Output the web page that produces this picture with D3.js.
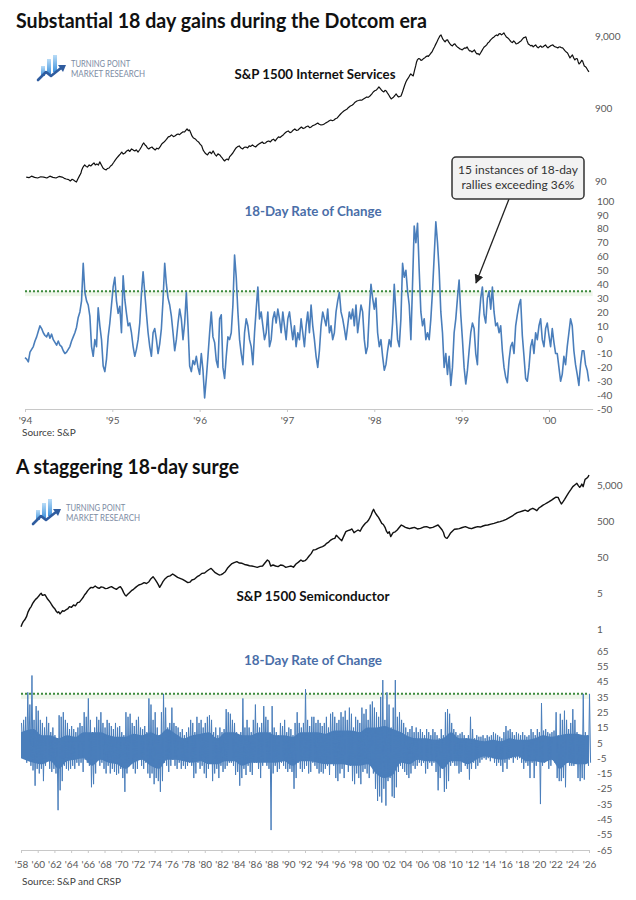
<!DOCTYPE html>
<html><head><meta charset="utf-8">
<script src="https://cdn.jsdelivr.net/npm/d3@7"></script>
<style>body{margin:0;background:#fff}svg{display:block}</style>
</head><body>
<svg id="c" width="636" height="900"></svg>
<script>
// ---------------- DATA ----------------
const topTitle = "Substantial 18 day gains during the Dotcom era";
const botTitle = "A staggering 18-day surge";
const topSeriesName = "S&P 1500 Internet Services";
const botSeriesName = "S&P 1500 Semiconductor";
const rocTitle = "18-Day Rate of Change";
const annotationLines = ["15 instances of 18-day", "rallies exceeding 36%"];
const topSource = "Source: S&P";
const botSource = "Source: S&P and CRSP";
const logoLines = ["TURNING POINT", "MARKET RESEARCH"];

const topYears = [1994, 1995, 1996, 1997, 1998, 1999, 2000];
const topYearLabels = ["'94", "'95", "'96", "'97", "'98", "'99", "'00"];
const topPriceTicks = [9000, 900, 90];
const topPriceTickLabels = ["9,000", "900", "90"];
const topRocTicks = [100, 90, 80, 70, 60, 50, 40, 30, 20, 10, 0, -10, -20, -30, -40, -50];
const topThreshold = 35;

const botYears = d3.range(1958, 2027, 2);
const botYearLabels = ["'58","'60","'62","'64","'66","'68","'70","'72","'74","'76","'78","'80","'82","'84","'86","'88","'90","'92","'94","'96","'98","'00","'02","'04","'06","'08","'10","'12","'14","'16","'18","'20","'22","'24","'26"];
const botPriceTicks = [5000, 500, 50, 5, 0.5];
const botPriceTickLabels = ["5,000", "500", "50", "5", "1"];
const botRocTicks = [65, 55, 45, 35, 25, 15, 5, -5, -15, -25, -35, -45, -55, -65];
const botThreshold = 37;

// S&P 1500 Internet Services (log scale), [year, level]
const internetPrice = [
[1994.014,102],[1994.045,100],[1994.075,105],[1994.11,101],[1994.145,99],[1994.18,103],[1994.215,102],[1994.25,99],[1994.285,105],[1994.32,101],[1994.355,99],[1994.39,104],[1994.425,102],[1994.45,98],[1994.472,96],[1994.50,94],[1994.519,90],[1994.54,95],[1994.556,93],[1994.575,89],[1994.589,87],[1994.605,96],[1994.622,105],[1994.64,115],[1994.650,128],[1994.665,140],[1994.683,150],[1994.70,143],[1994.715,140],[1994.735,150],[1994.753,145],[1994.77,152],[1994.790,160],[1994.805,150],[1994.823,155],[1994.84,149],[1994.856,165],[1994.875,150],[1994.893,136],[1994.91,131],[1994.930,128],[1994.945,134],[1994.963,136],[1994.98,145],[1994.996,150],
[1995.015,162],[1995.033,175],[1995.05,186],[1995.071,199],[1995.09,212],[1995.108,226],[1995.125,212],[1995.145,219],[1995.165,234],[1995.183,241],[1995.20,230],[1995.220,249],[1995.24,240],[1995.258,234],[1995.275,242],[1995.295,226],[1995.315,245],[1995.332,265],[1995.345,285],[1995.360,301],[1995.375,283],[1995.389,274],[1995.40,258],[1995.417,249],[1995.435,259],[1995.454,265],[1995.47,252],[1995.491,241],[1995.51,255],[1995.529,249],[1995.55,270],[1995.566,292],[1995.585,305],[1995.604,321],[1995.62,338],[1995.641,365],[1995.66,372],[1995.678,389],[1995.70,368],[1995.716,376],[1995.735,392],[1995.753,401],[1995.77,392],[1995.791,414],[1995.81,430],[1995.828,427],[1995.842,448],[1995.856,470],[1995.87,446],[1995.884,455],[1995.90,410],[1995.912,376],[1995.93,352],[1995.950,342],[1995.97,322],[1995.987,311],
[1996.005,290],[1996.024,274],[1996.04,240],[1996.062,219],[1996.075,212],[1996.090,206],[1996.105,220],[1996.118,226],[1996.135,214],[1996.155,234],[1996.175,210],[1996.193,199],[1996.21,213],[1996.230,206],[1996.245,195],[1996.258,187],[1996.27,178],[1996.286,170],[1996.30,177],[1996.314,181],[1996.33,176],[1996.342,193],[1996.36,205],[1996.380,219],[1996.40,240],[1996.417,257],[1996.435,268],[1996.454,274],[1996.47,258],[1996.492,249],[1996.51,262],[1996.529,265],[1996.55,258],[1996.567,274],[1996.585,270],[1996.604,283],[1996.62,273],[1996.641,265],[1996.66,280],[1996.679,292],[1996.70,302],[1996.716,311],[1996.735,296],[1996.754,301],[1996.77,314],[1996.791,321],[1996.81,312],[1996.828,331],[1996.845,340],[1996.866,321],[1996.885,345],[1996.903,365],[1996.92,358],[1996.941,376],[1996.96,392],[1996.978,414],
[1996.995,430],[1997.015,441],[1997.035,418],[1997.053,427],[1997.07,452],[1997.090,470],[1997.11,448],[1997.128,455],[1997.145,478],[1997.165,500],[1997.185,476],[1997.202,484],[1997.22,505],[1997.240,516],[1997.26,490],[1997.277,500],[1997.295,522],[1997.315,533],[1997.335,552],[1997.352,568],[1997.37,545],[1997.389,533],[1997.41,540],[1997.427,550],[1997.445,570],[1997.464,586],[1997.485,610],[1997.502,625],[1997.52,610],[1997.539,625],[1997.555,650],[1997.576,666],[1997.595,710],[1997.614,756],[1997.63,790],[1997.651,832],[1997.67,860],[1997.689,886],[1997.705,930],[1997.726,975],[1997.745,1000],[1997.763,1039],[1997.78,1100],[1997.801,1143],[1997.82,1160],[1997.838,1180],[1997.855,1170],[1997.876,1218],[1997.895,1260],[1997.913,1298],[1997.93,1280],[1997.950,1340],[1997.97,1420],[1997.988,1521],
[1998.005,1580],[1998.025,1621],[1998.04,1700],[1998.053,1784],[1998.067,1700],[1998.081,1621],[1998.095,1560],[1998.109,1521],[1998.123,1600],[1998.137,1571],[1998.15,1480],[1998.166,1383],[1998.18,1290],[1998.194,1218],[1998.208,1260],[1998.222,1298],[1998.236,1360],[1998.250,1428],[1998.264,1350],[1998.278,1298],[1998.292,1320],[1998.306,1340],[1998.32,1480],[1998.334,1674],[1998.348,1880],[1998.362,2091],[1998.376,2250],[1998.390,2375],[1998.404,2550],[1998.418,2697],[1998.432,2600],[1998.446,2531],[1998.46,3000],[1998.474,3478],[1998.483,3900],[1998.493,4209],[1998.507,4400],[1998.521,4345],[1998.535,4150],[1998.549,4209],[1998.563,4400],[1998.577,4485],[1998.591,4650],[1998.605,4780],[1998.619,4700],[1998.633,4934],[1998.647,5200],[1998.661,5428],[1998.675,5900],[1998.689,6364],[1998.703,6900],[1998.717,7461],[1998.731,8100],[1998.745,8747],[1998.754,9100],[1998.764,9322],[1998.773,8800],[1998.783,8208],[1998.797,7800],[1998.811,7461],[1998.825,7900],[1998.839,7951],[1998.853,7400],[1998.867,7001],[1998.881,6700],[1998.895,6570],[1998.909,6900],[1998.923,7001],[1998.937,6600],[1998.951,6364],[1998.965,6200],[1998.979,5972],
[1998.993,5900],[1999.007,5785],[1999.021,6000],[1999.035,6165],[1999.049,6100],[1999.063,6364],[1999.077,5900],[1999.091,5604],[1999.105,5600],[1999.119,5428],[1999.133,5600],[1999.147,5785],[1999.161,5350],[1999.175,5094],[1999.189,5150],[1999.203,4934],[1999.217,5250],[1999.231,5604],[1999.245,6000],[1999.259,6364],[1999.273,6550],[1999.287,6782],[1999.30,7200],[1999.316,7461],[1999.33,7900],[1999.344,8208],[1999.358,8500],[1999.372,8747],[1999.386,9100],[1999.400,9322],[1999.414,9100],[1999.428,9623],[1999.442,9700],[1999.456,9322],[1999.47,9600],[1999.484,9934],[1999.498,9300],[1999.512,8747],[1999.526,8500],[1999.540,8208],[1999.554,7800],[1999.568,7461],[1999.582,7300],[1999.596,7702],[1999.61,7400],[1999.624,7001],[1999.638,7100],[1999.652,7227],[1999.666,7500],[1999.680,7702],[1999.694,8100],[1999.708,8473],[1999.722,8600],[1999.736,8747],[1999.75,7700],[1999.764,7001],[1999.778,6800],[1999.792,6570],[1999.806,6700],[1999.820,6364],[1999.834,6600],[1999.848,6782],[1999.862,6400],[1999.877,6165],[1999.891,6400],[1999.905,6570],[1999.919,6300],[1999.933,6364],[1999.947,6600],[1999.961,6782],[1999.975,6400],[1999.989,6165],
[2000.003,6400],[2000.017,6570],[2000.031,6700],[2000.045,6782],[2000.059,6500],[2000.073,6364],[2000.087,6300],[2000.101,6165],[2000.115,6350],[2000.129,6364],[2000.143,6200],[2000.157,6165],[2000.171,5900],[2000.185,5604],[2000.199,5400],[2000.213,5258],[2000.227,4850],[2000.241,4485],[2000.255,4700],[2000.269,4934],[2000.283,4500],[2000.297,4209],[2000.311,4400],[2000.325,4345],[2000.335,3950],[2000.345,3706],[2000.355,3800],[2000.365,3950],[2000.375,4150],[2000.385,4077],[2000.395,3750],[2000.405,3478],[2000.418,3400],[2000.430,3264],[2000.444,3050],[2000.458,2874]
];

// 18-day rate of change (%), weekly from Jan 1994
const internetRoc = [
-13,-14,-16,-9,-7,-5,-1,2,6,10,8,5,3,2,5,1,4,0,-2,-4,-1,-4,-5,-8,-10,-9,-7,-5,-1,2,5,9,16,20,28,55,34,28,25,17,-5,-12,0,-5,23,10,0,-19,-23,-14,2,12,
25,38,45,28,19,24,5,46,29,19,10,12,5,-5,-12,-7,0,12,33,49,34,19,5,-5,-12,5,8,0,-10,-3,8,29,55,40,30,25,17,5,-8,0,12,22,15,0,12,34,10,-19,-23,-15,-18,-12,
-20,-25,-10,-22,-42,-28,-12,5,20,2,-2,-15,-20,15,18,-20,-28,-12,2,0,5,25,61,45,20,0,-10,-18,5,15,10,0,-5,-18,5,22,38,15,20,10,0,5,20,-5,0,15,20,12,22,15,5,20,
10,0,15,20,10,0,10,-5,5,0,15,5,-5,10,20,5,25,10,0,-12,-20,-8,10,20,15,10,22,5,10,0,5,20,28,34,20,15,8,0,10,20,15,22,10,25,5,15,25,20,0,-10,-5,20,
40,30,22,30,5,-5,0,-12,-22,-18,-8,0,-5,12,40,20,0,-5,15,55,45,50,35,25,0,40,82,70,84,50,20,10,15,0,5,0,15,35,60,85,70,50,20,5,-20,-10,-25,-12,-33,-20,5,15,
30,43,18,0,-20,-32,-22,-8,5,12,8,-10,-18,15,30,38,18,12,30,35,22,38,20,10,12,5,10,-8,-20,-27,-31,-15,-5,-2,-10,10,18,25,29,3,-12,-28,-30,-20,-5,0,-10,5,0,10,15,0,
-5,8,12,3,-5,8,-2,-10,-10,-20,-30,-25,-12,-18,-5,5,15,10,-8,-18,-25,-33,-18,-8,-8,-18,-22,-30
];
const internetRocStart = 1994.0;
const internetRocPerYear = 52.5;

// S&P 1500 Semiconductor (log scale), [year, level]
const semiPrice = [
[1958.00,0.58],[1958.14,0.70],[1958.27,0.80],[1958.45,0.90],[1958.66,1.10],[1958.85,1.50],[1959.06,1.87],[1959.22,2.10],[1959.40,2.58],[1959.55,2.90],[1959.74,3.33],[1959.92,3.60],[1960.13,4.13],[1960.28,4.60],[1960.42,4.90],[1960.56,4.30],[1960.72,4.40],[1960.86,4.50],[1961.01,3.95],[1961.18,3.40],[1961.35,3.06],[1961.52,2.70],[1961.69,2.32],[1961.88,2.00],[1962.09,1.76],[1962.22,1.55],[1962.38,1.42],[1962.52,1.50],[1962.67,1.31],[1962.82,1.45],[1962.97,1.61],[1963.15,1.55],[1963.36,1.69],[1963.58,1.80],[1963.80,2.09],[1964.05,2.00],[1964.29,2.32],[1964.52,2.20],[1964.77,2.69],[1965.00,2.80],[1965.26,3.33],[1965.45,3.80],[1965.60,4.40],[1965.80,5.00],[1965.99,5.81],[1966.20,6.60],[1966.39,7.18],[1966.62,7.00],[1966.88,7.82],[1967.12,7.10],[1967.36,6.74],[1967.60,7.40],[1967.85,7.18],[1968.10,6.60],[1968.34,6.74],[1968.58,7.20],[1968.83,7.50],[1969.12,6.80],[1969.42,6.32],[1969.66,7.00],[1969.90,7.50],
[1970.10,6.40],[1970.29,5.11],[1970.45,4.40],[1970.59,4.13],[1970.78,4.60],[1970.98,5.11],[1971.22,5.80],[1971.47,6.32],[1971.80,7.40],[1972.10,8.34],[1972.42,8.80],[1972.74,9.68],[1973.03,9.20],[1973.32,10.3],[1973.56,12.5],[1973.81,14.2],[1974.05,12.0],[1974.30,9.68],[1974.45,8.40],[1974.60,7.18],[1974.80,8.50],[1974.99,10.3],[1975.26,12.5],[1975.53,14.2],[1975.85,15.0],[1976.16,16.9],[1976.45,15.2],[1976.75,13.6],[1977.04,12.8],[1977.34,12.0],[1977.65,10.8],[1977.97,9.68],[1978.22,10.0],[1978.46,11.5],[1978.78,12.2],[1979.09,14.2],[1979.38,15.5],[1979.68,17.6],[1979.98,18.0],[1980.27,20.4],[1980.52,22.5],[1980.76,24.2],[1981.00,21.0],[1981.25,18.4],[1981.50,17.0],[1981.73,15.8],[1981.98,16.2],[1982.22,17.6],[1982.46,19.5],[1982.71,24.2],[1982.96,28.0],[1983.20,32.0],[1983.52,35.0],[1983.84,37.1],[1984.15,34.0],[1984.47,33.4],[1984.76,31.0],[1985.06,30.0],[1985.35,28.5],[1985.64,28.1],[1985.96,27.0],[1986.28,25.8],[1986.60,27.5],[1986.92,28.1],[1987.20,34.0],[1987.50,41.3],[1987.70,38.0],[1987.89,28.1],[1988.18,30.0],[1988.48,28.1],[1988.78,27.0],[1989.07,30.0],[1989.38,29.0],[1989.70,25.8],
[1990.02,27.0],[1990.34,28.1],[1990.62,26.0],[1990.92,32.0],[1991.22,36.0],[1991.51,41.3],[1991.75,38.0],[1992.00,39.5],[1992.25,45.0],[1992.49,53.3],[1992.74,62.0],[1992.98,78.2],[1993.27,80.0],[1993.56,87.1],[1993.83,92.0],[1994.10,96.9],[1994.35,105],[1994.59,120],[1994.84,130],[1995.08,148],[1995.33,160],[1995.57,165],[1995.74,200],[1995.91,184],[1996.15,160],[1996.40,142],[1996.64,190],[1996.89,253],[1997.13,270],[1997.38,281],[1997.62,300],[1997.87,237],[1998.11,260],[1998.35,281],[1998.60,260],[1998.84,333],[1999.03,380],[1999.23,431],[1999.42,470],[1999.62,533],[1999.77,620],[1999.92,734],[2000.06,900],[2000.21,1055],[2000.35,900],[2000.50,782],[2000.65,700],[2000.80,632],[2001.00,520],[2001.19,431],[2001.38,400],[2001.58,333],[2001.75,260],[2001.92,227],[2002.09,250],[2002.26,184],[2002.40,210],[2002.55,237],[2002.80,250],[2003.04,281],[2003.28,330],[2003.53,387],[2003.78,360],[2004.02,333],[2004.26,320],[2004.51,306],[2004.80,320],[2005.10,333],[2005.46,300],[2005.83,313],[2006.20,340],[2006.56,348],[2006.93,320],[2007.30,333],[2007.62,360],[2007.93,387],[2008.18,330],[2008.42,281],[2008.58,240],[2008.72,184],[2008.86,170],[2009.01,165],[2009.20,190],[2009.40,227],[2009.64,260],[2009.89,294],
[2010.18,300],[2010.47,306],[2010.84,330],[2011.20,348],[2011.57,320],[2011.94,306],[2012.30,330],[2012.67,348],[2012.99,340],[2013.31,363],[2013.60,380],[2013.89,387],[2014.26,410],[2014.63,431],[2015.00,460],[2015.36,479],[2015.72,510],[2016.09,556],[2016.46,620],[2016.83,689],[2017.12,780],[2017.41,852],[2017.73,900],[2018.05,948],[2018.36,1000],[2018.68,928],[2018.97,1050],[2019.27,1125],[2019.52,1050],[2019.76,969],[2020.00,1150],[2020.25,1250],[2020.50,1380],[2020.74,1483],[2020.98,1600],[2021.23,1722],[2021.52,1900],[2021.81,2131],[2022.05,2300],[2022.30,2270],[2022.50,1800],[2022.69,1483],[2022.88,1700],[2023.08,2000],[2023.33,2500],[2023.57,3062],[2023.82,3700],[2024.06,4496],[2024.30,5000],[2024.55,5565],[2024.72,4800],[2024.89,4307],[2025.02,4700],[2025.14,5330],[2025.30,4500],[2025.53,7185],[2025.70,7600],[2025.85,8170],[2025.93,8800],[2026.00,9480]
];

// 18-day rate of change (%), quarterly high / low, from 1958 Q1
const semiRocHigh = [
18,20,22,38, 30,49,20,29, 26,20,18,15, 22,18,12,15, 10,8,23,22, 25,20,18,14, 16,14,12,15, 18,16,25,22, 34,20,12,15, 22,20,25,18,
15,20,18,16, 14,18,15,16, 12,10,25,22, 24,18,16,20, 22,15,14,16, 12,34,30,20, 25,15,10,25, 37,28,15,18, 28,18,16,15, 12,14,10,12,
15,20,18,12, 22,18,20,15, 18,22,23,20, 12,15,10,15, 12,14,27,25, 24,20,18,12, 10,12,34,15, 20,15,12,20, 30,18,15,18, 29,22,20,12,
29,15,12,10, 18,16,20,12, 15,14,10,18, 25,18,15,18, 40,20,16,22, 22,18,20,18, 16,18,22,15, 24,25,22,18, 20,25,22,26, 20,28,24,15,
22,20,18,28, 24,27,20,30, 32,28,25,22, 35,46,20,38, 30,15,28,46, 22,25,20,18, 15,12,14,16, 12,15,12,14, 12,10,14,12, 10,14,12,10,
8,14,10,25, 27,24,18,14, 12,10,11,12, 10,8,10,22, 14,8,10,9, 9,10,8,10, 9,10,12,11, 10,9,8,12, 16,13,14,12, 10,12,11,10,
12,10,9,10, 14,12,10,14, 12,31,13,14, 12,11,12,13, 25,10,24,20, 26,20,14,18, 27,20,12,10, 8,37,12,10, 37
];
const semiRocLow = [
-3,-5,-8,-2, -10,-13,-23,-12, -15,-12,-20,-10, -5,-12,-14,-12, -15,-39,-26,-20, -10,-12,-13,-12, -10,-12,-8,-10, -8,-14,-6,-8, -10,-24,-22,-15, -5,-10,-8,-12,
-15,-10,-15,-12, -14,-16,-15,-12, -18,-27,-15,-10, -8,-12,-15,-12, -6,-10,-12,-8, -15,-18,-15,-22, -18,-20,-27,-20, -8,-10,-14,-10, -6,-10,-12,-8, -12,-10,-12,-10,
-8,-10,-18,-15, -8,-12,-10,-15, -18,-12,-8,-20, -15,-12,-18,-10, -14,-12,-10,-8, -8,-10,-16,-14, -23,-18,-12,-16, -10,-14,-16,-8, -8,-12,-18,-10, -5,-10,-12,-52,
-15,-10,-14,-12, -8,-10,-12,-14, -12,-14,-25,-18, -8,-12,-14,-12, -10,-15,-14,-8, -10,-12,-15,-14, -15,-12,-10,-16, -8,-10,-18,-20, -15,-12,-18,-8, -14,-10,-20,-22,
-15,-18,-22,-14, -12,-15,-18,-10, -15,-25,-33,-30, -34,-25,-36,-20, -18,-30,-31,-24, -14,-10,-12,-14, -16,-18,-15,-10, -12,-10,-8,-10, -8,-15,-12,-8, -10,-8,-14,-26,
-18,-12,-27,-25, -20,-10,-8,-10, -10,-15,-14,-8, -10,-12,-19,-12, -8,-12,-10,-8, -6,-5,-6,-5, -7,-5,-8,-10, -8,-10,-14,-8, -12,-6,-5,-8, -5,-6,-5,-8,
-12,-8,-10,-18, -8,-18,-10,-5, -35,-10,-8,-5, -12,-10,-6,-8, -18,-20,-20,-18, -24,-8,-10,-10, -10,-8,-18,-20, -18,-19,-6,-10, -8
];
// dense core of the oscillation, one value per year (1958..2026)
const semiCoreHigh = [
12,14,10,10,8,10,9,12,12,12, 10,9,9,11,10,12,10,14,11,8, 10,11,12,8,12,12,10,10,12,12,
10,10,9,12,12,12,11,13,13,13, 12,15,15,16,14,12,9,8,8,7, 8,12,8,8,7,6,7,6,8,7,
7,8,10,9,10,11,11,10,10
];
const semiCoreLow = [
-5,-8,-9,-7,-12,-7,-6,-5,-10,-6, -8,-9,-12,-8,-6,-10,-12,-6,-6,-7, -8,-7,-9,-9,-7,-7,-10,-8,-8,-8,
-8,-7,-10,-7,-7,-8,-9,-9,-9,-10, -10,-9,-15,-18,-16,-8,-9,-6,-7,-7, -12,-7,-7,-9,-6,-4,-5,-6,-5,-4,
-7,-7,-8,-6,-12,-8,-9,-9,-8
];
const semiRocStart = 1958.0;

// ---------------- DRAWING ----------------
const svg = d3.select("#c");
const FONT = "Lato, 'Open Sans', sans-serif";
const BLUE = "#4a7ebb";
const AXIS_TXT = "#595959";

svg.append("rect").attr("width", 636).attr("height", 900).attr("fill", "#fff");

function drawLogo(x, y, textLen) {
  const g = svg.append("g").attr("transform", `translate(${x},${y})`);
  const defsId = "lg" + Math.round(x) + "_" + Math.round(y);
  const grad = svg.append("defs").append("linearGradient").attr("id", defsId)
    .attr("x1", 0).attr("y1", 0).attr("x2", 0).attr("y2", 1);
  grad.append("stop").attr("offset", "0%").attr("stop-color", "#b9dcf7");
  grad.append("stop").attr("offset", "100%").attr("stop-color", "#3f93dd");
  [[3, 11, 4, 10], [9, 4, 4, 15], [15, 0, 4, 17]].forEach(b => {
    g.append("rect").attr("x", b[0]).attr("y", b[1]).attr("width", b[2]).attr("height", b[3])
      .attr("fill", `url(#${defsId})`);
  });
  g.append("polyline").attr("points", "0,25 8,17 13,21 23,13")
    .attr("fill", "none").attr("stroke", "#2f5c9f").attr("stroke-width", 2.6)
    .attr("stroke-linejoin", "round").attr("stroke-linecap", "round");
  g.append("path").attr("d", "M20,10 L28,10 L25,17 Z").attr("fill", "#2f5c9f");
  logoLines.forEach((t, i) => {
    g.append("text").attr("x", 33).attr("y", 12 + i * 10).text(t)
      .attr("font-family", FONT).attr("font-size", 8.6).attr("fill", "#7c8ba3")
      .attr("textLength", i === 0 ? textLen * 0.8 : textLen).attr("lengthAdjust", "spacingAndGlyphs");
  });
}

function text(x, y, t, size, weight, fill, anchor, len) {
  const el = svg.append("text").attr("x", x).attr("y", y).text(t)
    .attr("font-family", FONT).attr("font-size", size).attr("font-weight", weight)
    .attr("fill", fill).attr("text-anchor", anchor || "start");
  if (len) el.attr("textLength", len).attr("lengthAdjust", "spacingAndGlyphs");
  return el;
}

function rightAxis(scale, ticks, labels, x) {
  const ax = d3.axisRight(scale).tickValues(ticks).tickSize(0).tickPadding(0)
    .tickFormat((d, i) => labels ? labels[i] : d);
  const g = svg.append("g").attr("transform", `translate(${x},0)`).call(ax);
  g.select(".domain").remove();
  g.selectAll("text").attr("font-family", FONT).attr("font-size", 10).attr("fill", AXIS_TXT);
}

function bottomAxis(scale, ticks, labels, y, pad) {
  const ax = d3.axisBottom(scale).tickValues(ticks).tickSize(3).tickSizeOuter(0).tickPadding(pad)
    .tickFormat((d, i) => labels[i]);
  const g = svg.append("g").attr("transform", `translate(0,${y})`).call(ax);
  g.select(".domain").attr("stroke", "#c8c8c8");
  g.selectAll(".tick line").attr("stroke", "#c8c8c8");
  g.selectAll("text").attr("font-family", FONT).attr("font-size", 10).attr("fill", AXIS_TXT);
}

function threshold(xs, y, yv) {
  svg.append("rect").attr("x", xs.range()[0]).attr("y", y(yv)).attr("width", xs.range()[1] - xs.range()[0])
    .attr("height", 5).attr("fill", "#eef5ea");
  svg.append("line").attr("x1", xs.range()[0]).attr("x2", xs.range()[1])
    .attr("y1", y(yv)).attr("y2", y(yv))
    .attr("stroke", "#3c8a3c").attr("stroke-width", 2).attr("stroke-dasharray", "2,2");
}

// ===== TOP PANEL =====
const xTop = d3.scaleLinear().domain([1994, 2000.5]).range([25, 592.6]);
const yPriceTop = d3.scaleLog().domain([90, 9000]).range([181, 36]);
const yRocTop = d3.scaleLinear().domain([-50, 100]).range([409, 201]);

text(16, 28, topTitle, 20, 700, "#111", "start", 411);
drawLogo(38, 55, 74);
text(315, 79, topSeriesName, 13.5, 700, "#111", "middle", 161);

rightAxis(yPriceTop, topPriceTicks, topPriceTickLabels, 595);
rightAxis(yRocTop, topRocTicks, null, 597);

svg.append("path").datum(internetPrice)
  .attr("d", d3.line().x(d => xTop(d[0])).y(d => yPriceTop(d[1])))
  .attr("fill", "none").attr("stroke", "#111").attr("stroke-width", 1.2).attr("stroke-linejoin", "round");

text(313, 216, rocTitle, 13.5, 700, "#4a6ea8", "middle", 137);
threshold(xTop, yRocTop, topThreshold);

svg.append("path").datum(internetRoc)
  .attr("d", d3.line().x((d, i) => xTop(internetRocStart + i / internetRocPerYear)).y(d => yRocTop(d)))
  .attr("fill", "none").attr("stroke", BLUE).attr("stroke-width", 1.6).attr("stroke-linejoin", "round");

bottomAxis(xTop, topYears, topYearLabels, 409, 5);
text(22, 436, topSource, 10, 400, "#404040");

// annotation
const defs = svg.append("defs");
defs.append("marker").attr("id", "arr").attr("viewBox", "0 0 10 10").attr("refX", 9).attr("refY", 5)
  .attr("markerWidth", 7).attr("markerHeight", 7).attr("orient", "auto")
  .append("path").attr("d", "M0,0 L10,5 L0,10 Z").attr("fill", "#222");
svg.append("line").attr("x1", 509).attr("y1", 199).attr("x2", 476).attr("y2", 283)
  .attr("stroke", "#222").attr("stroke-width", 1.3).attr("marker-end", "url(#arr)");
svg.append("rect").attr("x", 452).attr("y", 157).attr("width", 132).attr("height", 42).attr("rx", 4)
  .attr("fill", "#f2f2f2").attr("stroke", "#333").attr("stroke-width", 1.5);
annotationLines.forEach((t, i) => text(518, 174 + i * 15, t, 12, 400, "#333", "middle"));

// ===== BOTTOM PANEL =====
const xBot = d3.scaleLinear().domain([1958, 2026]).range([21, 589]);
const yPriceBot = d3.scaleLog().domain([0.5, 5000]).range([629, 485]);
const yRocBot = d3.scaleLinear().domain([-65, 65]).range([850, 651]);

text(16, 474, botTitle, 20, 700, "#111", "start", 223);
drawLogo(33, 499, 74);
text(313, 601, botSeriesName, 13.5, 700, "#111", "middle", 153);

rightAxis(yPriceBot, botPriceTicks, botPriceTickLabels, 597);
rightAxis(yRocBot, botRocTicks, null, 597);

svg.append("path").datum(semiPrice)
  .attr("d", d3.line().x(d => xBot(d[0])).y(d => yPriceBot(d[1])))
  .attr("fill", "none").attr("stroke", "#111").attr("stroke-width", 1.4).attr("stroke-linejoin", "round");

text(313, 665, rocTitle, 13.5, 700, "#4a6ea8", "middle", 138);
threshold(xBot, yRocBot, botThreshold);

// dense core (yearly)
const semiCore = semiCoreHigh.map((h, i) => ({ t: semiRocStart + i + 0.5, hi: h, lo: semiCoreLow[i] }));
semiCore[0].t = semiRocStart; semiCore[semiCore.length - 1].t = semiRocStart + semiCore.length - 1;
svg.append("path").datum(semiCore)
  .attr("d", d3.area().curve(d3.curveMonotoneX).x(d => xBot(d.t)).y0(d => yRocBot(d.lo)).y1(d => yRocBot(d.hi)))
  .attr("fill", BLUE);
// quarterly extremes as a zig-zag
const semiRocPts = [];
semiRocHigh.forEach((h, i) => {
  semiRocPts.push([semiRocStart + i / 4 + 1 / 16, h]);
  semiRocPts.push([semiRocStart + i / 4 + 3 / 16, semiRocLow[i]]);
});
svg.append("path").datum(semiRocPts)
  .attr("d", d3.line().x(d => xBot(d[0])).y(d => yRocBot(d[1])))
  .attr("fill", "none").attr("stroke", BLUE).attr("stroke-width", 1.0);

bottomAxis(xBot, botYears, botYearLabels, 850, 8);
text(22, 885, botSource, 10, 400, "#404040");
</script>
</body></html>
